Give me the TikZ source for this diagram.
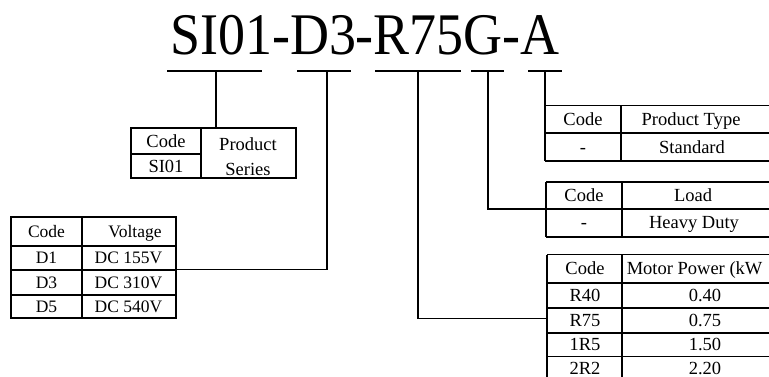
\documentclass[tikz,border=0pt]{standalone}
\usepackage{fontspec}
\setmainfont{Liberation Serif}
\newfontfamily\titlefont[FakeStretch=0.915]{Liberation Serif}
\begin{document}
\begin{tikzpicture}[x=1pt,y=-1pt,line width=1.5pt,
  tb/.style={line width=1.8pt},
  cell/.style={inner sep=0pt,anchor=base,yshift=-6.1pt,font=\fontsize{18.5}{20}\selectfont},
  vcell/.style={inner sep=0pt,anchor=base,yshift=-5.8pt,font=\fontsize{17.5}{19}\selectfont},
  bcell/.style={inner sep=0pt,anchor=base,font=\fontsize{18.5}{20}\selectfont}]
\useasboundingbox (0,0) rectangle (769,376);
\clip (0,0) rectangle (769,376);
% title
\node[anchor=base,inner sep=0pt,font=\titlefont\fontsize{59}{60}\selectfont] (title) at (365,54.5) {SI01-D3-R75G-A};
% underlines
\draw (167,71) -- (262,71);
\draw (297,71) -- (351,71);
\draw (375,71) -- (461,71);
\draw (471,71) -- (504,71);
\draw (528,71) -- (562,71);
% tick points and attachment points
\coordinate (t1) at (216,71);
\coordinate (t2) at (327,71);
\coordinate (t3) at (418,71);
\coordinate (t4) at (488,71);
\coordinate (t5) at (545,71);
\coordinate (ps) at (216,128.3);
\coordinate (vt) at (175.7,269.5);
\coordinate (mt) at (547,318.3);
\coordinate (lt) at (546,209);
\coordinate (pt) at (545,105.5);
\draw (t1) -- (ps);
\draw (t2) |- (vt);
\draw (t3) |- (mt);
\draw (t4) |- (lt);
\draw (t5) -- (pt);
% product series table
\draw[tb] (131,128.3) rectangle (295.7,178.3);
\draw[tb] (200.7,128.3) -- (200.7,178.3);
\draw[tb] (131,154) -- (200.7,154);
\node[cell] (psc) at (166,141.2) {Code};
\node[cell] (psv) at (166,166.2) {SI01};
\node[bcell] (psh1) at (248,150.5) {Product};
\node[bcell] (psh2) at (248,175) {Series};
% voltage table
\draw[tb] (11,217.3) rectangle (175.7,318.3);
\draw[tb] (81.7,217.3) -- (81.7,318.3);
\draw[tb] (11,245.7) -- (175.7,245.7);
\draw[tb] (11,270.3) -- (175.7,270.3);
\draw[tb] (11,295) -- (175.7,295);
\node[vcell] (vc) at (46.5,231.5) {Code};
\node[vcell] (vh) at (135,231.5) {Voltage};
\node[vcell] (v1a) at (46.5,258) {D1};
\node[vcell] (v1b) at (128.5,258) {DC 155V};
\node[vcell] (v2a) at (46.5,282.7) {D3};
\node[vcell] (v2b) at (128.5,282.7) {DC 310V};
\node[vcell] (v3a) at (46.5,306.7) {D5};
\node[vcell] (v3b) at (128.5,306.7) {DC 540V};
% product type table
\draw[tb] (545,105.5) -- (790,105.5);
\draw[tb] (545,133) -- (790,133);
\draw[tb] (545,161.3) -- (790,161.3);
\draw[tb] (545,105.5) -- (545,161.3);
\draw[tb] (621,105.5) -- (621,161.3);
\node[cell] (ptc) at (583,119.3) {Code};
\node[cell] (pth) at (691,119.3) {Product Type};
\node[cell] (pta) at (583,147.2) {-};
\node[cell] (ptb) at (692,147.2) {Standard};
% load table
\draw[tb] (546,181.7) -- (790,181.7);
\draw[tb] (546,209) -- (790,209);
\draw[tb] (546,236.7) -- (790,236.7);
\draw[tb] (546,181.7) -- (546,236.7);
\draw[tb] (621.7,181.7) -- (621.7,236.7);
\node[cell] (lc) at (584,195.3) {Code};
\node[cell] (lh) at (693,195.3) {Load};
\node[cell] (la) at (584,222.8) {-};
\node[cell] (lb) at (694,222.8) {Heavy Duty};
% motor power table
\draw[tb] (547,254.5) -- (790,254.5);
\draw[tb] (547,283) -- (790,283);
\draw[tb] (547,307.7) -- (790,307.7);
\draw[tb] (547,332.7) -- (790,332.7);
\draw[tb] (547,356.5) -- (790,356.5);
\draw[tb] (547,381) -- (790,381);
\draw[tb] (547,254.5) -- (547,390);
\draw[tb] (622.3,254.5) -- (622.3,390);
\node[cell] (mc) at (585,268.7) {Code};
\node[cell,anchor=base west] (mh) at (626,268.7) {Motor Power (kW};
\node[cell] (m1a) at (585,295.3) {R40};
\node[cell] (m1b) at (705,295.3) {0.40};
\node[cell] (m2a) at (585,320.2) {R75};
\node[cell] (m2b) at (705,320.2) {0.75};
\node[cell] (m3a) at (585,344.6) {1R5};
\node[cell] (m3b) at (705,344.6) {1.50};
\node[cell] (m4a) at (585,368.7) {2R2};
\node[cell] (m4b) at (705,368.7) {2.20};
\end{tikzpicture}
\end{document}
